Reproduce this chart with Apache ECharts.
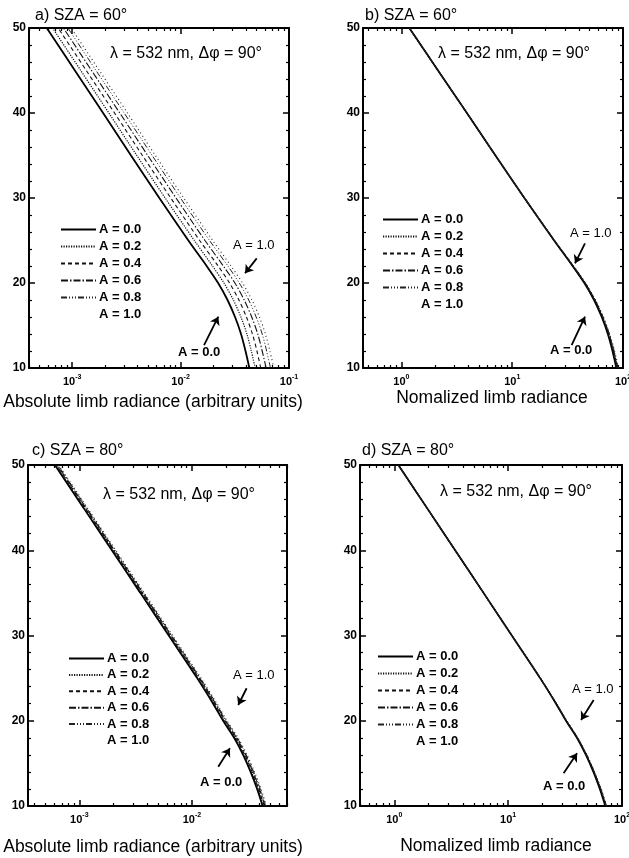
<!DOCTYPE html>
<html><head><meta charset="utf-8">
<script src="https://cdn.jsdelivr.net/npm/echarts@6/dist/echarts.min.js"></script>
<style>html,body{margin:0;padding:0;background:#fff}#c{width:629px;height:858px}</style>
</head><body><div id="c"></div>
<script>
// ---------------- data ----------------
const altitudeKm = [10, 12, 14, 16, 18, 20, 22, 25, 30, 35, 40, 45, 50];
const albedoNames = ['A = 0.0', 'A = 0.2', 'A = 0.4', 'A = 0.6', 'A = 0.8', 'A = 1.0'];

// a) absolute limb radiance, SZA = 60 (rows: A = 0.0 ... 1.0)
const absSza60 = [
  [0.0431, 0.0397, 0.0361, 0.0318, 0.0271, 0.0222, 0.0174, 0.0118, 0.00637, 0.00349, 0.00193, 0.00106, 0.000583],
  [0.0488, 0.0449, 0.0409, 0.0360, 0.0307, 0.0251, 0.0197, 0.0134, 0.00721, 0.00395, 0.00218, 0.00120, 0.000660],
  [0.0549, 0.0506, 0.0460, 0.0405, 0.0345, 0.0283, 0.0222, 0.0150, 0.00812, 0.00445, 0.00246, 0.00135, 0.000743],
  [0.0615, 0.0566, 0.0515, 0.0453, 0.0386, 0.0317, 0.0248, 0.0168, 0.00908, 0.00498, 0.00275, 0.00151, 0.000831],
  [0.0675, 0.0622, 0.0566, 0.0498, 0.0425, 0.0348, 0.0273, 0.0185, 0.00998, 0.00547, 0.00302, 0.00166, 0.000914],
  [0.0724, 0.0667, 0.0606, 0.0534, 0.0455, 0.0373, 0.0292, 0.0198, 0.01070, 0.00586, 0.00324, 0.00178, 0.000979]
];
// b) normalized limb radiance, SZA = 60
const normSza60 = [
  [87.1, 80.4, 73.0, 64.3, 54.8, 44.8, 35.1, 23.90, 12.88, 7.06, 3.90, 2.14, 1.178],
  [87.9, 81.1, 73.6, 64.8, 55.1, 45.0, 35.2, 23.95, 12.89, 7.06, 3.90, 2.14, 1.178],
  [88.7, 81.8, 74.2, 65.2, 55.5, 45.2, 35.4, 24.00, 12.90, 7.06, 3.90, 2.14, 1.178],
  [89.5, 82.5, 74.8, 65.7, 55.8, 45.5, 35.5, 24.04, 12.91, 7.06, 3.90, 2.14, 1.178],
  [90.2, 83.2, 75.3, 66.1, 56.1, 45.7, 35.7, 24.09, 12.92, 7.06, 3.90, 2.14, 1.178],
  [91.0, 83.9, 75.9, 66.6, 56.4, 45.9, 35.8, 24.14, 12.93, 7.06, 3.90, 2.14, 1.178]
];
// c) absolute limb radiance, SZA = 80
const absSza80 = [
  [0.04250, 0.03798, 0.03325, 0.02853, 0.02374, 0.01895, 0.01545, 0.01114, 0.00623, 0.003486, 0.001946, 0.001087, 0.000607],
  [0.04318, 0.03859, 0.03378, 0.02899, 0.02412, 0.01925, 0.01570, 0.01132, 0.00633, 0.003542, 0.001977, 0.001104, 0.000617],
  [0.04390, 0.03923, 0.03435, 0.02947, 0.02452, 0.01958, 0.01596, 0.01151, 0.00644, 0.003601, 0.002010, 0.001123, 0.000627],
  [0.04463, 0.03988, 0.03491, 0.02996, 0.02493, 0.01990, 0.01622, 0.01170, 0.00654, 0.003660, 0.002043, 0.001141, 0.000637],
  [0.04531, 0.04049, 0.03544, 0.03041, 0.02531, 0.02020, 0.01647, 0.01188, 0.00664, 0.003716, 0.002074, 0.001159, 0.000647],
  [0.04603, 0.04113, 0.03601, 0.03090, 0.02571, 0.02052, 0.01673, 0.01206, 0.00675, 0.003775, 0.002108, 0.001177, 0.000657]
];
// d) normalized limb radiance, SZA = 80
const normSza80 = [
  [71.4, 63.9, 56.1, 48.2, 40.2, 32.2, 26.35, 19.09, 10.77, 6.08, 3.424, 1.929, 1.086],
  [71.8, 64.3, 56.4, 48.4, 40.3, 32.3, 26.41, 19.11, 10.77, 6.08, 3.424, 1.929, 1.086],
  [72.3, 64.6, 56.7, 48.6, 40.5, 32.4, 26.48, 19.14, 10.78, 6.08, 3.424, 1.929, 1.086],
  [72.7, 65.0, 56.9, 48.8, 40.6, 32.5, 26.54, 19.16, 10.78, 6.08, 3.424, 1.929, 1.086],
  [73.1, 65.3, 57.2, 49.0, 40.8, 32.6, 26.60, 19.18, 10.79, 6.08, 3.424, 1.929, 1.086],
  [73.5, 65.7, 57.5, 49.3, 40.9, 32.7, 26.67, 19.20, 10.79, 6.08, 3.424, 1.929, 1.086]
];

// tick labels
const altitudeTicks = [10, 20, 30, 40, 50];
const absRadianceTicks = [1e-3, 1e-2, 1e-1];
const normRadianceTicks = [1, 10, 100];

// annotation arrows (data space: [radiance, altitude] start -> end)
const arrowsA = [[[0.0504, 22.9], [0.0393, 21.14]], [[0.01646, 12.7], [0.0223, 16.04]]];
const arrowsB = [[[45.4, 24.67], [36.9, 22.32]], [[34.4, 12.7], [45.4, 16.04]]];
const arrowsC = [[[0.03064, 23.81], [0.02581, 21.85]], [[0.01715, 14.61], [0.02178, 16.77]]];
const arrowsD = [[[56.4, 22.43], [43.7, 20.09]], [[30.7, 13.84], [40.3, 16.18]]];

// ---------------- styling / layout ----------------
const FONT = '"Liberation Sans", Arial, Helvetica, sans-serif';
const font = (size, bold) => (bold ? 'bold ' : '') + size + 'px ' + FONT;

const lineStyles = [
  {type: 'solid', width: 1.8, color: '#000'},
  {type: [1.2, 1.3], width: 1.2, color: '#111'},
  {type: [4, 3], width: 1.1, color: '#111'},
  {type: [7, 2, 1.5, 2], width: 1.1, color: '#111'},
  {type: [6, 2, 1, 2, 1, 2, 1, 2], width: 1.0, color: '#222'},
  {type: [1, 3], width: 1.1, color: '#222'}
];

const panels = [
  {grid: {left: 29, top: 28, width: 260, height: 340}, xRange: [4e-4, 0.1], majors: absRadianceTicks,
   values: absSza60, arrows: arrowsA, legend: {left: 60, top: 223, gap: 4}},
  {grid: {left: 363, top: 28, width: 260, height: 340}, xRange: [0.45, 100], majors: normRadianceTicks,
   values: normSza60, arrows: arrowsB, legend: {left: 382, top: 213, gap: 4}},
  {grid: {left: 28, top: 465, width: 259, height: 341}, xRange: [3.5e-4, 0.07], majors: absRadianceTicks,
   values: absSza80, arrows: arrowsC, legend: {left: 68, top: 652, gap: 3.4}},
  {grid: {left: 360, top: 465, width: 262, height: 341}, xRange: [0.5, 100], majors: normRadianceTicks,
   values: normSza80, arrows: arrowsD, legend: {left: 377, top: 650, gap: 4}}
];

function minorTicks(range) {
  const out = [];
  const d0 = Math.floor(Math.log10(range[0])), d1 = Math.ceil(Math.log10(range[1]));
  for (let d = d0; d <= d1; d++) {
    for (let k = 2; k <= 9; k++) {
      const v = Number((k * Math.pow(10, d)).toPrecision(6));
      if (v >= range[0] && v <= range[1]) out.push(v);
    }
  }
  return out;
}

const axisLineStyle = {color: '#000', width: 2};
const grids = [], xAxes = [], yAxes = [], series = [], legends = [];

panels.forEach((p, g) => {
  grids.push(Object.assign({containLabel: false, outerBoundsMode: 'none'}, p.grid));
  const minors = minorTicks(p.xRange);
  const base = {type: 'log', gridIndex: g, min: p.xRange[0], max: p.xRange[1], splitLine: {show: false}};
  xAxes.push(Object.assign({}, base, {
    position: 'bottom',
    axisLine: {show: true, lineStyle: axisLineStyle},
    axisTick: {show: true, inside: true, length: 6, customValues: p.majors, lineStyle: {color: '#000', width: 1.5}},
    axisLabel: {
      show: true, customValues: p.majors, margin: 6, hideOverlap: false,
      formatter: v => '{b|10}{s|' + Math.round(Math.log10(v)) + '}',
      rich: {
        b: {fontFamily: FONT, fontSize: 11, fontWeight: 'bold', color: '#000', lineHeight: 16},
        s: {fontFamily: FONT, fontSize: 7, fontWeight: 'bold', color: '#000', lineHeight: 8, verticalAlign: 'top'}
      }
    }
  }));
  xAxes.push(Object.assign({}, base, {
    position: 'bottom', axisLine: {show: false},
    axisTick: {show: true, inside: true, length: 3, customValues: minors, lineStyle: {color: '#000', width: 1.2}},
    axisLabel: {show: false}
  }));
  xAxes.push(Object.assign({}, base, {
    position: 'top', axisLine: {show: true, lineStyle: axisLineStyle},
    axisTick: {show: true, inside: true, length: 6, customValues: p.majors, lineStyle: {color: '#000', width: 1.5}},
    axisLabel: {show: false}
  }));
  xAxes.push(Object.assign({}, base, {
    position: 'top', axisLine: {show: false},
    axisTick: {show: true, inside: true, length: 3, customValues: minors, lineStyle: {color: '#000', width: 1.2}},
    axisLabel: {show: false}
  }));
  const ybase = {type: 'value', gridIndex: g, min: altitudeTicks[0], max: altitudeTicks[altitudeTicks.length - 1],
    interval: altitudeTicks[1] - altitudeTicks[0], splitLine: {show: false},
    axisLine: {show: true, lineStyle: axisLineStyle},
    axisTick: {show: true, inside: true, length: 6, lineStyle: {color: '#000', width: 1.5}},
    minorTick: {show: true, splitNumber: 5, length: 3, lineStyle: {color: '#000', width: 1.2}},
    minorSplitLine: {show: false}};
  yAxes.push(Object.assign({}, ybase, {
    position: 'left',
    axisLabel: {show: true, margin: 3, fontFamily: FONT, fontSize: 12, fontWeight: 'bold', color: '#000'}
  }));
  yAxes.push(Object.assign({}, ybase, {position: 'right', axisLabel: {show: false}}));

  p.values.forEach((vals, i) => {
    const s = {
      type: 'line', name: albedoNames[i], xAxisIndex: 4 * g, yAxisIndex: 2 * g,
      data: altitudeKm.map((z, k) => [vals[k], z]),
      symbol: 'none', smooth: 0.3, lineStyle: lineStyles[i], itemStyle: {color: lineStyles[i].color},
      animation: false, silent: true, emphasis: {disabled: true}
    };
    if (i === 0) {
      s.markLine = {
        silent: true, animation: false, symbol: ['none', 'arrow'], symbolSize: 8,
        label: {show: false}, emphasis: {disabled: true},
        lineStyle: {type: 'solid', color: '#000', width: 1.8},
        data: p.arrows.map(a => [{coord: a[0]}, {coord: a[1]}])
      };
    }
    series.push(s);
  });

  legends.push({
    orient: 'vertical', left: p.legend.left, top: p.legend.top, padding: 0,
    itemWidth: 35, itemHeight: 14, itemGap: p.legend.gap, selectedMode: false,
    itemStyle: {opacity: 0, borderWidth: 0},
    textStyle: {fontFamily: FONT, fontSize: 13, fontWeight: 'bold', color: '#000', padding: [0, 0, 0, -2]},
    data: albedoNames.map((n, i) => i === 5 ? {name: n, lineStyle: {opacity: 0}, itemStyle: {opacity: 0}} : n)
  });
});

function txt(x, y, text, size, bold, align) {
  return {type: 'text', x: x, y: y, silent: true,
    style: {text: text, font: font(size, bold), fill: '#000', align: align || 'left', verticalAlign: 'middle'}};
}

const graphics = [
  txt(35, 16, 'a) SZA = 60°', 16), txt(365, 16, 'b) SZA = 60°', 16),
  txt(32, 451, 'c) SZA = 80°', 16), txt(362, 451, 'd) SZA = 80°', 16),
  txt(110, 54, 'λ = 532 nm, Δφ = 90°', 16), txt(438, 54, 'λ = 532 nm, Δφ = 90°', 16),
  txt(103, 495, 'λ = 532 nm, Δφ = 90°', 16), txt(440, 492, 'λ = 532 nm, Δφ = 90°', 16),
  txt(233, 245, 'A = 1.0', 13), txt(178, 352, 'A = 0.0', 13, true),
  txt(570, 233, 'A = 1.0', 13), txt(550, 350, 'A = 0.0', 13, true),
  txt(233, 675, 'A = 1.0', 13), txt(200, 782, 'A = 0.0', 13, true),
  txt(572, 689, 'A = 1.0', 13), txt(543, 786, 'A = 0.0', 13, true),
  txt(153, 402, 'Absolute limb radiance (arbitrary units)', 17.5, false, 'center'),
  txt(492, 398, 'Nomalized limb radiance', 17.5, false, 'center'),
  txt(153, 847, 'Absolute limb radiance (arbitrary units)', 17.5, false, 'center'),
  txt(496, 846, 'Nomalized limb radiance', 17.5, false, 'center')
];

const chart = echarts.init(document.getElementById('c'), null, {renderer: 'canvas'});
chart.setOption({
  backgroundColor: '#fff',
  animation: false,
  grid: grids, xAxis: xAxes, yAxis: yAxes, series: series, legend: legends,
  graphic: {elements: graphics}
});
</script>
</body></html>
